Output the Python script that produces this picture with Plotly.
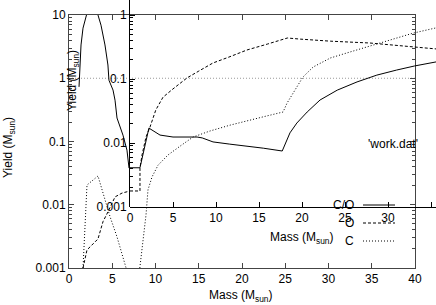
import plotly.graph_objects as go

# ---------------- data ----------------
# main panel (x: mass 0-40, y: yield 1e-3..10)
main_solid_m = [1.16, 1.39, 1.62, 2.08, 2.7, 3.35, 3.7, 4.16, 4.5, 4.62, 5.09, 5.32, 5.55, 5.9, 6.24, 6.7, 6.94]
main_solid_y = [0.73, 3.36, 6.2, 10.7, 16.0, 10.0, 6.9, 3.36, 1.62, 0.93, 0.65, 0.45, 0.235, 0.17, 0.126, 0.073, 0.038]

main_dash_m = [1.62, 2.08, 3.35, 3.93, 4.5, 5.32, 6.13, 7.05]
main_dash_y = [0.001, 0.00193, 0.00288, 0.0054, 0.0077, 0.0133, 0.0153, 0.0165]

main_dot_m = [1.62, 2.08, 3.35, 3.93, 4.74, 5.55, 6.47, 6.6]
main_dot_y = [0.001, 0.0205, 0.0285, 0.0155, 0.0065, 0.0031, 0.00105, 0.001]

# inset panel (x: mass 0-35, y: yield 1e-3..1)
co_m = [0, 1.16, 2.2, 3.49, 5.0, 7.8, 8.4, 9.65, 11.6, 13.6, 15.5, 17.7, 18.6, 19.4, 20.6, 22.1, 24.1, 26.4, 28.7, 31.0, 33.1, 35.6]
co_y = [0.0041, 0.0041, 0.0171, 0.0133, 0.0124, 0.0124, 0.012, 0.0104, 0.0096, 0.009, 0.0083, 0.0075, 0.0144, 0.0205, 0.0305, 0.047, 0.067, 0.09, 0.115, 0.138, 0.16, 0.185]

o_m = [0, 1.16, 1.16, 1.4, 1.86, 2.33, 3.0, 3.84, 5.0, 6.63, 8.0, 9.65, 11.5, 13.6, 16.0, 18.3, 19.8, 23.3, 27.9, 33.1, 35.6]
o_y = [0.00178, 0.00178, 0.0041, 0.0065, 0.0124, 0.0178, 0.0328, 0.052, 0.070, 0.104, 0.133, 0.178, 0.22, 0.284, 0.352, 0.437, 0.42, 0.39, 0.365, 0.316, 0.295]

c_m = [1.1, 1.86, 2.09, 2.56, 3.26, 4.42, 5.81, 7.33, 9.3, 11.63, 15.47, 17.8, 18.26, 19.2, 20.1, 21.3, 23.3, 25.2, 27.6, 30.2, 32.9, 35.6]
c_y = [0.0001, 0.00075, 0.00185, 0.00295, 0.0045, 0.0065, 0.0089, 0.0124, 0.0154, 0.019, 0.0256, 0.0305, 0.042, 0.067, 0.107, 0.154, 0.213, 0.255, 0.316, 0.406, 0.52, 0.63]

series_labels = ["C/O", "O", "C"]
key_title = "'work.dat'"

main_xticks = [0, 5, 10, 15, 20, 25, 30, 35, 40]
main_yticks = [0.001, 0.01, 0.1, 1, 10]
main_yticktext = ["0.001", "0.01", "0.1", "1", "10"]
inset_xticks = [0, 5, 10, 15, 20, 25, 30, 35]
inset_yticks = [0.001, 0.01, 0.1, 1]
inset_yticktext = ["0.001", "0.01", "0.1", "1"]

# ---------------- geometry ----------------
W, H = 436, 305
ML, MB, MT, MR = 69, 37, 0, 0
PW, PH = W - ML - MR, H - MT - MB   # 367 x 268


def px(x):
    return (x - ML) / PW


def py(y):
    return (H - MB - y) / PH


FONT = "Liberation Sans"
BLACK = "#000000"
AXC = "#444444"

fig = go.Figure()

# main traces
fig.add_trace(go.Scatter(x=main_solid_m, y=main_solid_y, mode="lines", xaxis="x", yaxis="y",
                         line=dict(color=BLACK, width=1), showlegend=False))
fig.add_trace(go.Scatter(x=main_dash_m, y=main_dash_y, mode="lines", xaxis="x", yaxis="y",
                         line=dict(color=BLACK, width=1, dash="3px,2px"), showlegend=False))
fig.add_trace(go.Scatter(x=main_dot_m, y=main_dot_y, mode="lines", xaxis="x", yaxis="y",
                         line=dict(color=BLACK, width=1, dash="1px,2px"), showlegend=False))

# inset axes placeholder (so the inset axis frame is drawn)
fig.add_trace(go.Scatter(x=[], y=[], xaxis="x2", yaxis="y2", showlegend=False))

# inset traces (drawn on hidden y3 that extends down to main bottom)
fig.add_trace(go.Scatter(x=co_m, y=co_y, mode="lines", xaxis="x2", yaxis="y3",
                         line=dict(color=BLACK, width=1), showlegend=False))
fig.add_trace(go.Scatter(x=o_m, y=o_y, mode="lines", xaxis="x2", yaxis="y3",
                         line=dict(color=BLACK, width=1, dash="3px,2px"), showlegend=False))
fig.add_trace(go.Scatter(x=c_m, y=c_y, mode="lines", xaxis="x2", yaxis="y3",
                         line=dict(color=BLACK, width=1, dash="1px,2px"), showlegend=False))

tickfont = dict(family=FONT, size=12, color=BLACK)

main_x_dom = [0, px(415)]
main_y_dom = [0, py(15)]
inset_x_dom = [px(130), 1]
inset_y_dom = [py(207), 1]
inset_top_log = (207 - 0) / 64.0 - 3.0
inset_bottom_ext = -3.0 - (268 - 207) / 64.0

fig.update_layout(
    width=W, height=H,
    margin=dict(l=ML, r=MR, t=MT, b=MB, pad=0, autoexpand=False),
    paper_bgcolor="white", plot_bgcolor="rgba(0,0,0,0)",
    font=dict(family=FONT, size=12, color=BLACK),
    showlegend=False,
    xaxis=dict(domain=main_x_dom, range=[0, 40], anchor="y", showgrid=False, zeroline=False, automargin=False,
               showline=True, linecolor=AXC, linewidth=1, mirror="ticks",
               ticks="inside", ticklen=5, tickcolor=AXC,
               tickvals=main_xticks, ticktext=[str(v) for v in main_xticks], tickfont=tickfont),
    yaxis=dict(domain=main_y_dom, type="log", range=[-3, 1], anchor="x", showgrid=False, zeroline=False,
               automargin=False,
               showline=True, linecolor=AXC, linewidth=1, mirror="ticks",
               ticks="inside", ticklen=5, tickcolor=AXC,
               tickvals=main_yticks, ticktext=main_yticktext, tickfont=tickfont,
               minor=dict(ticks="inside", ticklen=3, tickcolor=AXC, dtick="D1", showgrid=False)),
    xaxis2=dict(domain=inset_x_dom, range=[0, (436 - 130) / 8.6], anchor="free", position=py(207),
                automargin=False,
                showgrid=False, zeroline=False, showline=True, linecolor=BLACK, linewidth=1,
                ticks="inside", ticklen=5, tickcolor=BLACK,
                tickvals=inset_xticks, ticktext=[str(v) for v in inset_xticks], tickfont=tickfont),
    yaxis2=dict(domain=inset_y_dom, type="log", range=[-3, inset_top_log], anchor="x2", automargin=False,
                showgrid=False, zeroline=False, showline=True, linecolor=BLACK, linewidth=1,
                ticks="inside", ticklen=5, tickcolor=BLACK,
                tickvals=inset_yticks, ticktext=inset_yticktext, tickfont=tickfont,
                minor=dict(ticks="inside", ticklen=3, tickcolor=BLACK, dtick="D1", showgrid=False)),
    yaxis3=dict(domain=[0, 1], type="log", range=[inset_bottom_ext, inset_top_log], anchor="x2",
                visible=False, showgrid=False, zeroline=False, automargin=False),
)

shapes = []
# dotted reference line at yield = 1 in the main panel
y_one = main_y_dom[0] + (0 - (-3)) / 4 * (main_y_dom[1] - main_y_dom[0])
shapes.append(dict(type="line", xref="paper", yref="paper", x0=0, x1=main_x_dom[1], y0=y_one, y1=y_one,
                   line=dict(color="#999999", width=1, dash="1px,2px"), layer="below"))
# key samples
key_y = [205, 223, 241]
key_dash = ["solid", "3px,2px", "1px,2px"]
for yy, dsh in zip(key_y, key_dash):
    shapes.append(dict(type="line", xref="paper", yref="paper", x0=px(363), x1=px(395), y0=py(yy), y1=py(yy),
                       line=dict(color=BLACK, width=1, dash=dsh)))
fig.update_layout(shapes=shapes)

ann = []
for lab, yy in zip(series_labels, key_y):
    ann.append(dict(text=lab, xref="paper", yref="paper", x=px(356), y=py(yy), xanchor="right", yanchor="middle",
                    showarrow=False, font=dict(family=FONT, size=12, color=BLACK)))
ann.append(dict(text=key_title, xref="paper", yref="paper", x=px(420), y=py(144), xanchor="right", yanchor="middle",
                showarrow=False, font=dict(family=FONT, size=12, color=BLACK)))
title = "Yield (M<sub>sun</sub>)"
xtitle = "Mass (M<sub>sun</sub>)"
ann.append(dict(text=title, xref="paper", yref="paper", x=px(9), y=py(148), textangle=-90,
                xanchor="center", yanchor="middle", showarrow=False, font=dict(family=FONT, size=12, color=BLACK)))
ann.append(dict(text=title, xref="paper", yref="paper", x=px(73), y=py(81), textangle=-90,
                xanchor="center", yanchor="middle", showarrow=False, font=dict(family=FONT, size=12, color=BLACK)))
ann.append(dict(text=xtitle, xref="paper", yref="paper", x=px(241), y=py(296),
                xanchor="center", yanchor="middle", showarrow=False, font=dict(family=FONT, size=12, color=BLACK)))
ann.append(dict(text=xtitle, xref="paper", yref="paper", x=px(302), y=py(238),
                xanchor="center", yanchor="middle", showarrow=False, font=dict(family=FONT, size=12, color=BLACK)))
fig.update_layout(annotations=ann)

fig.write_html("out.html", config={"displayModeBar": False},
               post_script="document.body.style.margin='0';document.body.style.overflow='hidden';")
